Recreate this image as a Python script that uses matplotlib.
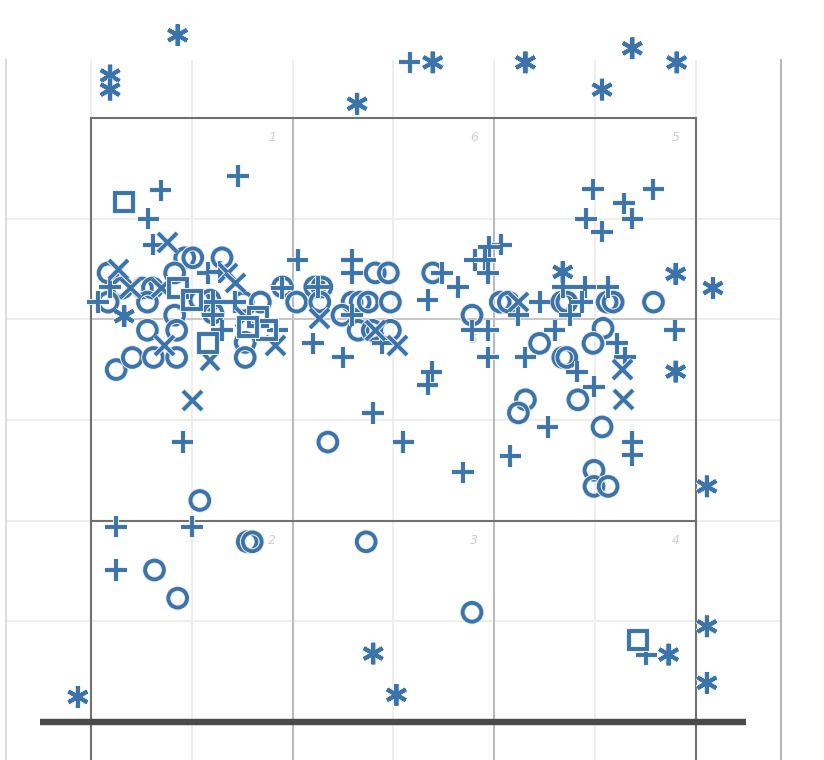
import matplotlib.pyplot as plt
import matplotlib.patheffects as pe

# marker positions, in grid units (one cell of the light grid = 1)
star_x = [0.86, 0.19, 0.19, 2.64, 3.39, 4.31, 5.37, 5.81, 5.07, 5.80, 6.17, 4.68,
          0.33, 5.80, 6.11, 6.11, 5.73, 6.11, 2.80, 3.03, -0.13]
star_y = [6.82, 6.42, 6.28, 6.14, 6.55, 6.55, 6.69, 6.55, 6.28, 4.45, 4.31, 4.47,
          4.03, 3.48, 2.34, 0.95, 0.67, 0.39, 0.68, 0.27, 0.25]

square_x = [0.33, 0.86, 1.00, 1.16, 1.66, 1.75, 1.56, 5.43]
square_y = [5.16, 4.31, 4.19, 3.76, 4.02, 3.89, 3.92, 0.81]

cross_x = [0.76, 0.27, 0.39, 0.70, 1.36, 1.43, 1.53, 0.73, 1.18, 1.83, 2.27, 2.82,
           3.04, 1.01, 4.24, 5.27, 5.28]
cross_y = [4.76, 4.49, 4.31, 4.31, 4.46, 4.36, 4.02, 3.74, 3.59, 3.74, 4.01, 3.89,
           3.74, 3.19, 4.17, 3.50, 3.20]

circle_x = [0.93, 1.01, 1.30, 0.17, 0.83, 0.51, 0.61, 0.31, 0.17, 0.56, 1.08, 1.18,
            1.51, 1.68, 1.90, 0.83, 1.21, 0.56, 0.85, 1.53, 0.25, 0.41, 0.62, 0.85,
            1.53, 2.04, 2.22, 2.29, 2.27, 2.59, 2.67, 2.75, 2.97, 2.82, 2.95, 2.49,
            2.65, 2.79, 2.97, 3.39, 3.78, 4.06, 4.14, 4.67, 4.72, 5.12, 5.18, 5.58,
            5.08, 4.98, 4.45, 4.68, 4.72, 4.31, 4.24, 4.83, 5.07, 4.99, 4.99, 5.13,
            2.35, 1.08, 1.55, 1.60, 2.73, 0.63, 0.86, 3.78]
circle_y = [4.61, 4.61, 4.61, 4.46, 4.46, 4.31, 4.31, 4.31, 4.17, 4.17, 4.19, 4.19,
            4.17, 4.17, 4.32, 4.04, 4.06, 3.89, 3.89, 3.77, 3.50, 3.62, 3.62, 3.62,
            3.62, 4.17, 4.32, 4.32, 4.17, 4.17, 4.17, 4.17, 4.17, 4.46, 4.46, 4.04,
            3.89, 3.89, 3.89, 4.46, 4.04, 4.17, 4.17, 4.17, 4.17, 4.17, 4.17, 4.17,
            3.91, 3.76, 3.76, 3.62, 3.62, 3.20, 3.07, 3.20, 2.93, 2.50, 2.34, 2.34,
            2.78, 2.20, 1.79, 1.79, 1.79, 1.51, 1.23, 1.09]

plus_x = [3.16, 0.69, 1.46, 0.57, 0.62, 4.98, 5.58, 5.29, 5.37, 4.91, 5.07, 4.07,
          3.95, 3.81, 3.91, 3.94, 3.64, 3.48, 3.34, 4.45, 4.24, 4.75, 4.90, 5.13,
          4.68, 4.87, 5.79, 3.94, 3.78, 4.60, 5.22, 5.30, 4.31, 3.94, 4.82, 4.99,
          3.38, 3.34, 4.53, 5.37, 5.37, 4.16, 3.69, 2.80, 3.10, 0.91, 0.25, 1.00,
          0.25, 5.51, 2.05, 2.59, 2.59, 1.16, 1.28, 1.89, 0.07, 1.21, 1.43, 1.30,
          1.85, 2.20, 2.50, 2.89, 2.59, 2.25, 0.19, 1.21]
plus_y = [6.55, 5.28, 5.42, 5.00, 4.74, 5.29, 5.29, 5.15, 5.00, 5.00, 4.87, 4.74,
          4.72, 4.59, 4.59, 4.46, 4.32, 4.46, 4.19, 4.17, 4.04, 4.04, 4.32, 4.32,
          4.32, 4.17, 3.89, 3.89, 3.89, 3.89, 3.76, 3.62, 3.62, 3.62, 3.48, 3.33,
          3.48, 3.35, 2.93, 2.78, 2.65, 2.64, 2.48, 3.07, 2.78, 2.78, 1.94, 1.94,
          1.51, 0.67, 4.59, 4.59, 4.46, 4.46, 4.47, 4.31, 4.17, 4.17, 4.17, 3.89,
          3.89, 3.76, 3.62, 3.76, 4.04, 4.32, 4.32, 4.04]

cell_labels = ['1', '6', '5', '5', '2', '3', '4']
label_x = [1.8, 3.8, 5.8, 3.8, 1.8, 3.8, 5.8]
label_y = [5.8, 5.8, 5.8, 3.8, 1.8, 1.8, 1.8]

blue = '#3a74aa'

fig = plt.figure(figsize=(8.24, 7.6), dpi=100)
ax = fig.add_axes([6 / 824, 0, 775 / 824, 700 / 760])
ax.set_xlim(-0.843, 6.845)
ax.set_ylim(-0.377, 6.574)

# light grid
for gx in range(7):
    ax.axvline(gx, color='#ededed', lw=1.3, zorder=0)
for gy in range(1, 6):
    ax.axhline(gy, color='#ededed', lw=1.3, zorder=0)

# side spines only
for s in ['top', 'bottom']:
    ax.spines[s].set_visible(False)
ax.spines['left'].set_color('#dcdcdc')
ax.spines['right'].set_color('#b8b8b8')
ax.spines['left'].set_linewidth(1.5)
ax.spines['right'].set_linewidth(1.5)
ax.set_xticks([])
ax.set_yticks([])

# cell frame
ymin = ax.get_ylim()[0]
for vx in [2, 4]:
    ax.plot([vx, vx], [ymin, 6], color='#b5b5b5', lw=1.3, zorder=1)
ax.plot([0, 6], [4, 4], color='#c4c4c4', lw=1.3, zorder=1)
for vx in [0, 6]:
    ax.plot([vx, vx], [ymin, 6], color='#707070', lw=1.5, zorder=1)
ax.plot([0, 6], [6, 6], color='#707070', lw=1.5, zorder=1)
ax.plot([0, 6], [2, 2], color='#707070', lw=1.5, zorder=1)
ax.plot([-0.506, 6.5], [0, 0], color='#4a4a4a', lw=4.6, solid_capstyle='butt', zorder=2)

for t, lx, ly in zip(cell_labels, label_x, label_y):
    ax.text(lx, ly, t, color='#cfcfcf', fontsize=9, style='italic',
            ha='center', va='center', zorder=1)

halo = [pe.withStroke(linewidth=4.3, foreground='#eeeeee')]
kw = dict(ls='none', mfc='none', mec=blue, mew=2.8, clip_on=False, zorder=3,
          path_effects=halo)
ax.plot(circle_x, circle_y, marker='o', ms=13.5, **kw)
ax.plot(plus_x, plus_y, marker='+', ms=15.5, **kw)
ax.plot(cross_x, cross_y, marker='x', ms=13.5, **kw)
ax.plot(square_x, square_y, marker='s', ms=13, **kw)
ax.plot(star_x, star_y, marker=(6, 2, 0), ms=15.5, **kw)

fig.savefig('out.png', dpi=100)
